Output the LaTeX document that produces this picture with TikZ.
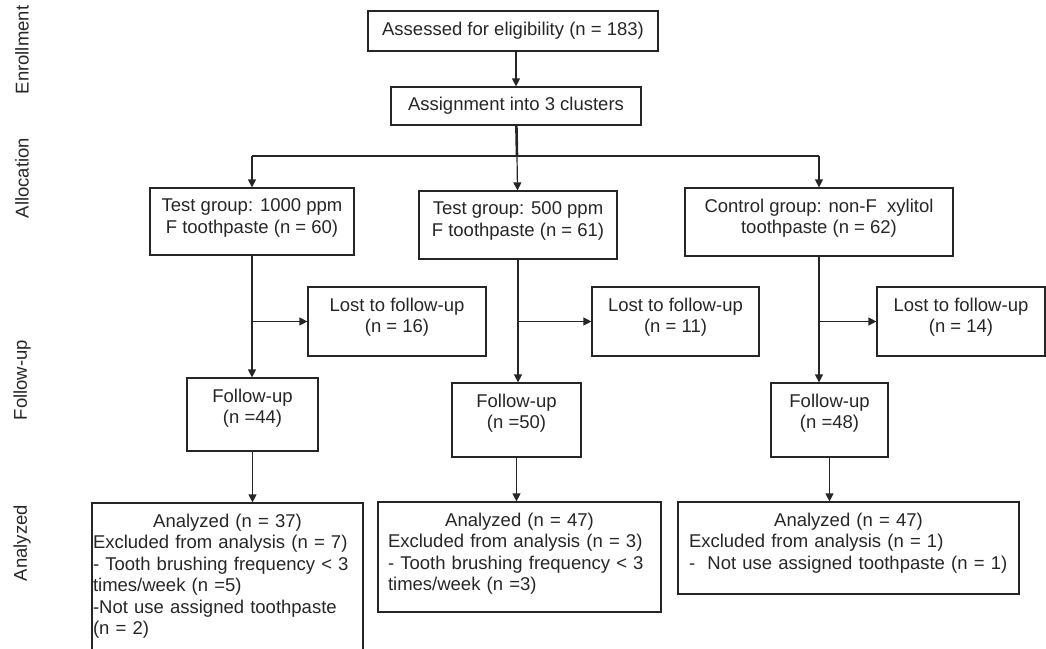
\documentclass[tikz,border=0pt]{standalone}
\usepackage{fontspec}
\setmainfont{Liberation Sans}
\usetikzlibrary{arrows.meta}
\setlength{\parindent}{0pt}
\definecolor{ink}{HTML}{262626}

\begin{document}
\begin{tikzpicture}[x=1pt, y=-1pt, every node/.style={align=center, text=ink},
    font=\fontsize{18.5}{21.5}\selectfont,
    box/.style={draw=ink, line width=1.2pt, inner sep=0pt},
    inbox/.style={anchor=north, inner sep=0pt, yshift=-11pt},
    arr/.style={draw=ink, line width=1.2pt, -{Triangle[length=8pt,width=8pt]}},
    side/.style={rotate=90}]
    \useasboundingbox (0,0) rectangle (1046,648);

    \node[side] (labEnrol) at (22,50) {Enrollment};
    \node[side] (labAlloc) at (22,178) {Allocation};
    \node[side] (labFollow) at (22,380) {Follow-up};
    \node[side] (labAnal) at (22,543) {Analyzed};

    \node[box, minimum width=290pt, minimum height=40pt] (assess) at (513,31) {Assessed for eligibility (n = 183)};
    \node[box, minimum width=250pt, minimum height=38pt] (assign) at (516,106) {Assignment into 3 clusters};

    \node[box, minimum width=204pt, minimum height=67pt, label={[inbox]north:{Test group: 1000 ppm\\F toothpaste (n = 60)}}] (grpA) at (252,221.5) {};
    \node[box, minimum width=198pt, minimum height=68pt, label={[inbox]north:{Test group: 500 ppm\\F toothpaste (n = 61)}}] (grpB) at (518,225) {};
    \node[box, minimum width=268pt, minimum height=68pt, label={[inbox]north:{Control group: non-F\ \ xylitol\\toothpaste (n = 62)}}] (grpC) at (819,222) {};

    \node[box, minimum width=178pt, minimum height=69pt, label={[inbox]north:{Lost to follow-up\\(n = 16)}}] (lostA) at (397,321.5) {};
    \node[box, minimum width=167pt, minimum height=69pt, label={[inbox]north:{Lost to follow-up\\(n = 11)}}] (lostB) at (675.5,321.5) {};
    \node[box, minimum width=168pt, minimum height=69pt, label={[inbox]north:{Lost to follow-up\\(n = 14)}}] (lostC) at (961,321.5) {};

    \node[box, minimum width=131pt, minimum height=73pt, label={[inbox]north:{Follow-up\\(n =44)}}] (folA) at (252.5,414.5) {};
    \node[box, minimum width=129pt, minimum height=74pt, label={[inbox]north:{Follow-up\\(n =50)}}] (folB) at (516.5,420) {};
    \node[box, minimum width=117pt, minimum height=74pt, label={[inbox]north:{Follow-up\\(n =48)}}] (folC) at (829.5,420) {};

    \node[box, minimum width=271pt, minimum height=150pt, label={[inbox, text width=269pt, align=left]north:{{\centering Analyzed (n = 37)\endgraf}Excluded from analysis (n = 7)\\- Tooth brushing frequency < 3\\times/week (n =5)\\-Not use assigned toothpaste\\(n = 2)}}] (anaA) at (227.5,578) {};
    \node[box, minimum width=283pt, minimum height=110pt, label={[inbox, text width=263pt, align=left]north:{{\centering Analyzed (n = 47)\endgraf}Excluded from analysis (n = 3)\\- Tooth brushing frequency < 3\\times/week (n =3)}}] (anaB) at (519.5,557) {};
    \node[box, minimum width=341pt, minimum height=92pt, label={[inbox, text width=319pt, align=left]north:{{\centering Analyzed (n = 47)\endgraf}Excluded from analysis (n = 1)\\-\ \ Not use assigned toothpaste (n = 1)}}] (anaC) at (848.5,548) {};

    \coordinate (split) at (517,156);
    \draw[arr] (assess.south -| assign.north) -- (assign.north);
    \draw[ink, line width=2.6pt] (assign) -- (split);
    \draw[ink, line width=1.2pt] (grpA |- split) -- (grpC |- split);
    \draw[arr] (grpA |- split) -- (grpA);
    \draw[arr] (split) -- (grpB);
    \draw[arr] (grpC |- split) -- (grpC);

    \draw[arr] (grpA.south) -- (grpA.south |- folA.north);
    \draw[arr] (grpA.south |- lostA) -- (lostA);
    \draw[arr] (grpB.south) -- (grpB.south |- folB.north);
    \draw[arr] (grpB.south |- lostB) -- (lostB);
    \draw[ink, line width=2.4pt] (grpC.south) -- (grpC.south |- lostC);
    \draw[arr] (grpC.south |- lostC) -- (grpC.south |- folC.north);
    \draw[arr] (grpC.south |- lostC) -- (lostC);

    \draw[arr] (folA.south) -- (folA.south |- anaA.north);
    \draw[arr] (folB.south) -- (folB.south |- anaB.north);
    \draw[arr] (folC.south) -- (folC.south |- anaC.north);
\end{tikzpicture}
\end{document}
